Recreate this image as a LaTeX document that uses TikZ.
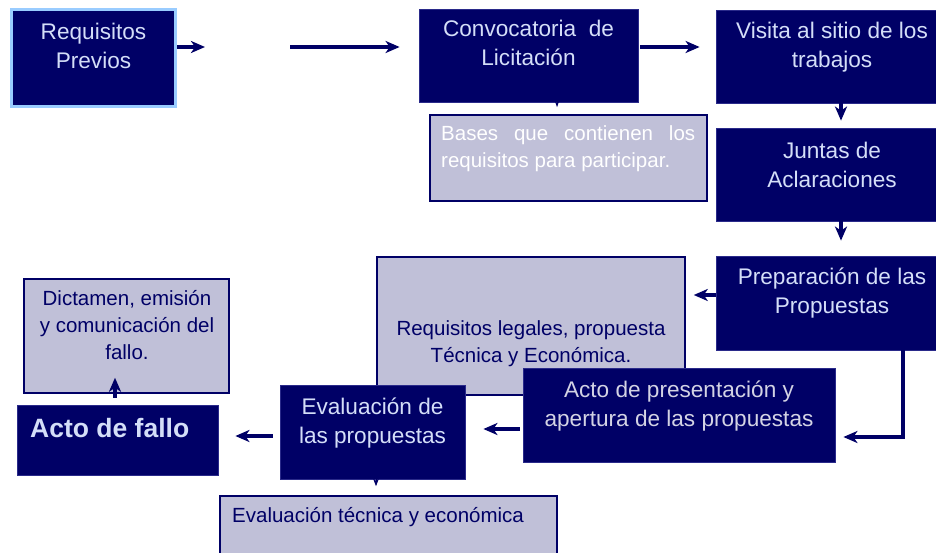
\documentclass[tikz,border=0pt]{standalone}
\usepackage{fontspec}
\setmainfont{Liberation Sans}
\usetikzlibrary{arrows.meta}

\definecolor{navy}{HTML}{000066}
\definecolor{boxedge}{HTML}{2A2A8A}
\definecolor{lav}{HTML}{C0C0D8}
\definecolor{sky}{HTML}{99CCFF}
\definecolor{pale}{HTML}{D4DEF8}

\begin{document}
\begin{tikzpicture}[x=1pt, y=-1pt, >={Stealth[length=14pt,width=12pt,inset=4pt]},
    stagebox/.style={rectangle, draw=boxedge, line width=0.8pt, fill=navy, inner sep=0pt},
    notebox/.style={rectangle, draw=navy, line width=1.5pt, fill=lav, inner sep=0pt},
    bigtext/.style={anchor=north, inner sep=0pt, align=center, text=pale, font=\fontsize{22.6}{29.5}\selectfont},
    smalltext/.style={anchor=north, inner sep=0pt, align=center, text=navy, font=\fontsize{20.5}{27}\selectfont},
    flow/.style={->, draw=navy, line width=3.5pt}]
        \useasboundingbox (0,0) rectangle (936,553);
        \clip (0,0) rectangle (936,553);

        % Nodes
        \node (req) [stagebox, draw=sky, line width=3pt, minimum width=164pt, minimum height=97pt] at (93.5,58) {};
        \node (req-t) [bigtext] at (93.5,22.5) {Requisitos\\Previos};

        \node (conv) [stagebox, minimum width=219pt, minimum height=93pt] at (528.5,55.5) {};
        \node (conv-t) [bigtext] at (528.5,19.5) {Convocatoria\ \ de\\Licitación};

        \node (visita) [stagebox, minimum width=232pt, minimum height=93pt] at (832,56.5) {};
        \node (visita-t) [bigtext] at (832,21.5) {Visita al sitio de los\\trabajos};

        \node (bases) [notebox, minimum width=277pt, minimum height=86pt] at (568.5,158) {};
        \node (bases-t) [smalltext, anchor=north west, text width=254pt, align=justify, text=white] at (441,125.5)
            {Bases que contienen los\linebreak requisitos para participar.};

        \node (juntas) [stagebox, minimum width=232pt, minimum height=93pt, below of=visita, node distance=118pt] {};
        \node (juntas-t) [bigtext] at (832,141.5) {Juntas de\\Aclaraciones};

        \node (prep) [stagebox, minimum width=232pt, minimum height=94pt, below of=juntas, node distance=128.5pt] {};
        \node (prep-t) [bigtext] at (832,267.5) {Preparación de las\\Propuestas};

        \node (legales) [notebox, minimum width=308pt, minimum height=138pt] at (531,326) {};
        \node (legales-t) [smalltext] at (531,320.5) {Requisitos legales, propuesta\\Técnica y Económica.};

        \node (dictamen) [notebox, minimum width=205pt, minimum height=114pt] at (126.5,336) {};
        \node (dictamen-t) [smalltext] at (127,290.5) {Dictamen, emisión\\y comunicación del\\fallo.};

        \node (evaltec) [notebox, minimum width=337pt, minimum height=84pt] at (388.5,538) {};
        \node (evaltec-t) [smalltext, anchor=north west] at (232,507.5) {Evaluación técnica y económica};

        \node (actopres) [stagebox, minimum width=312pt, minimum height=94pt] at (679,415) {};
        \node (actopres-t) [bigtext, text=lav!70!white] at (679,380.5) {Acto de presentación y\\apertura de las propuestas};

        \node (eval) [stagebox, minimum width=185pt, minimum height=94pt] at (372.5,432) {};
        \node (eval-t) [bigtext] at (372.5,397.5) {Evaluación de\\las propuestas};

        \node (fallo) [stagebox, minimum width=201pt, minimum height=70pt] at (117.5,440) {};
        \node (fallo-t) [bigtext, anchor=north west, font=\bfseries\fontsize{26.5}{32}\selectfont] at (30,418.5) {Acto de fallo};

        \coordinate (gapL) at (205,47);
        \coordinate (gapR) at (290,47);

        % Edges
        \draw[flow] (req.east |- gapL) -- (gapL);
        \draw[flow, shorten >=19pt] (gapR) -- (conv.west |- gapR);
        \draw[flow, shorten <=2pt, shorten >=16pt] (conv.east |- 0,47) -- (visita.west |- 0,47);
        \draw[navy, line width=1pt, -{Stealth[length=6pt,width=4pt]}, shorten >=7pt] (conv.south -| 557,0) -- (bases.north -| 557,0);
        \draw[flow, shorten >=7pt] (visita.south -| 841,0) -- (juntas.north -| 841,0);
        \draw[flow, shorten >=15pt] (juntas.south -| 841,0) -- (prep.north -| 841,0);
        \draw[flow, shorten >=8pt] (prep.west |- 0,295) -- (legales.east |- 0,295);
        \draw[flow, shorten >=8pt] (prep.south -| 903,0) |- (actopres.east |- 0,437);
        \draw[flow, shorten <=3pt, shorten >=18pt] (actopres.west |- 0,429) -- (eval.east |- 0,429);
        \draw[flow, shorten <=7pt, shorten >=17pt] (eval.west |- 0,436) -- (fallo.east |- 0,436);
        \draw[flow, shorten <=7pt, shorten >=-16pt] (fallo.north -| 115,0) -- (dictamen.south -| 115,0);
        \draw[navy, line width=1pt, -{Stealth[length=8pt,width=6pt]}, shorten >=9pt] (eval.south -| 376,0) -- (evaltec.north -| 376,0);
    \end{tikzpicture}
\end{document}
